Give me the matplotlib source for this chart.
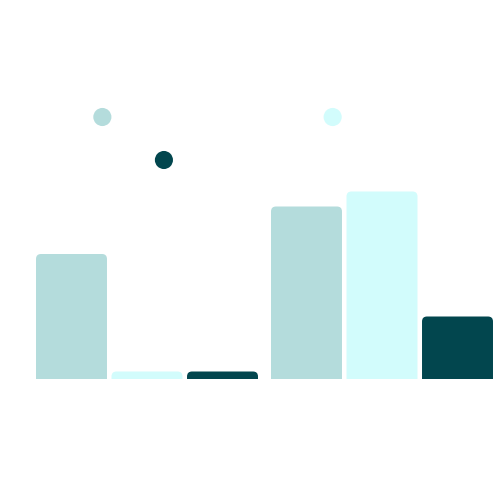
import matplotlib
matplotlib.use('Agg')
import matplotlib.pyplot as plt
from matplotlib.patches import FancyBboxPatch

# data
groups = [0, 1]
series_colors = ['#b4dcdc', '#d2fcfc', '#02464e']
values = [
    [50, 3, 3],
    [69, 75, 25],
]
# dots above the bars
dot_x = [-0.19, 0.072, 0.79]
dot_y = [104.8, 87.6, 104.8]
dot_colors = ['#b4dcdc', '#02464e', '#d2fcfc']

bar_w = 0.302
pitch = 0.3213
offsets = [-pitch, 0, pitch]

fig = plt.figure(figsize=(4.96, 4.96), dpi=100)
ax = fig.add_axes([0, 117 / 496, 1, 379 / 496])
ax.set_xlim(-147 / 235, (496 - 147) / 235)
ax.set_ylim(0, 379 / 2.5)
ax.axis('off')

# y units per px / x units per px
aspect = (1 / 2.5) / (1 / 235)
r = 5 / 235

for g, vals in zip(groups, values):
    for off, v, c in zip(offsets, vals, series_colors):
        x0 = g + off - bar_w / 2
        p = FancyBboxPatch((x0, -10), bar_w, v + 10,
                           boxstyle='round,pad=0,rounding_size=%f' % r,
                           mutation_aspect=aspect, facecolor=c, edgecolor='none')
        ax.add_patch(p)

ax.scatter(dot_x, dot_y, s=170, c=dot_colors, edgecolors='none', zorder=3, clip_on=False)

fig.savefig('out.png', dpi=100)
